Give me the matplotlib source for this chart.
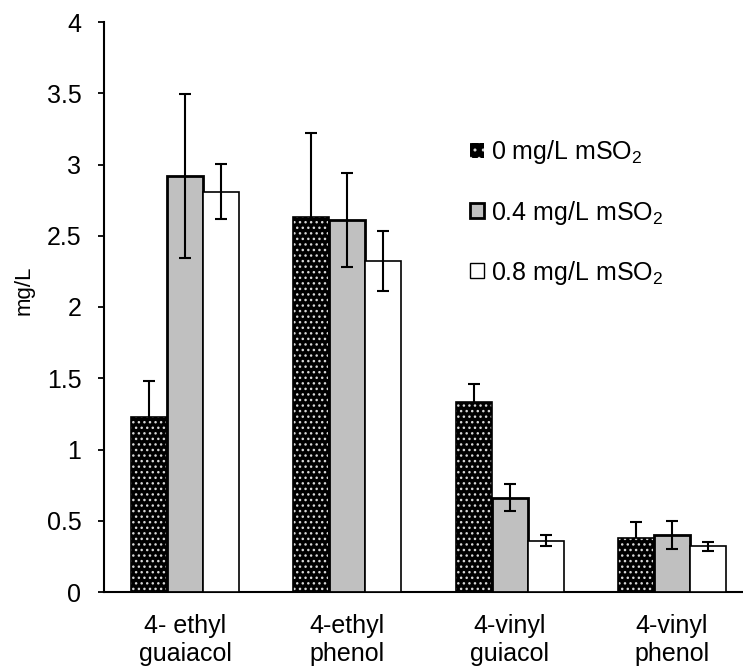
import matplotlib
matplotlib.use("Agg")
import matplotlib.pyplot as plt
from matplotlib.patches import Patch
import numpy as np

plt.rcParams['font.family'] = ['Liberation Sans', 'DejaVu Sans']
plt.rcParams['mathtext.fontset'] = 'custom'
plt.rcParams['mathtext.rm'] = 'Liberation Sans'
plt.rcParams['mathtext.it'] = 'Liberation Sans:italic'
plt.rcParams['mathtext.bf'] = 'Liberation Sans:bold'
plt.rcParams['hatch.linewidth'] = 1.0

categories = ["4- ethyl\nguaiacol", "4-ethyl\nphenol", "4-vinyl\nguiacol", "4-vinyl\nphenol"]
series_labels = ["0 mg/L mSO$_\\mathregular{2}$",
                 "0.4 mg/L mSO$_\\mathregular{2}$",
                 "0.8 mg/L mSO$_\\mathregular{2}$"]
values_0 = [1.23, 2.63, 1.33, 0.38]
values_04 = [2.92, 2.61, 0.66, 0.40]
values_08 = [2.81, 2.32, 0.36, 0.32]
err_0 = [0.25, 0.59, 0.13, 0.11]
err_04 = [0.575, 0.33, 0.095, 0.095]
err_08 = [0.195, 0.21, 0.04, 0.033]
yticks = [0, 0.5, 1, 1.5, 2, 2.5, 3, 3.5, 4]
ytick_labels = ["0", "0.5", "1", "1.5", "2", "2.5", "3", "3.5", "4"]

FS = 18

fig = plt.figure(figsize=(7.43, 6.67), dpi=100)
ax = fig.add_axes([104 / 743, 75 / 667, 649 / 743, 570 / 667])

x = np.arange(len(categories))
w = 0.222
err_kw = dict(ecolor='black', elinewidth=1.5, capsize=4.3, capthick=1.5)

# dotted black series: error bar sits behind the dotted fill, outline on top
ax.errorbar(x - w, values_0, yerr=err_0, fmt='none', zorder=1, **err_kw)
ax.bar(x - w, values_0, w, color='black', edgecolor='#d8d8d8', hatch='...',
       linewidth=0, zorder=2)
ax.bar(x - w, values_0, w, fill=False, edgecolor='black', linewidth=1.2,
       zorder=3)
ax.bar(x, values_04, w, color='#c0c0c0', edgecolor='black', linewidth=2.0,
       yerr=err_04, error_kw=err_kw, zorder=3)
ax.bar(x + w, values_08, w, color='white', edgecolor='black', linewidth=1.2,
       yerr=err_08, error_kw=err_kw, zorder=3)

# legend proxies
h0 = Patch(facecolor='black', edgecolor='#d8d8d8', hatch='..', linewidth=0)
h1 = Patch(facecolor='#c0c0c0', edgecolor='black', linewidth=2.0)
h2 = Patch(facecolor='white', edgecolor='black', linewidth=1.0)
ax.legend([h0, h1, h2], series_labels, loc='upper left',
          bbox_to_anchor=(0.564, 0.796), frameon=False, fontsize=FS,
          handlelength=0.55, handleheight=0.55, handletextpad=0.28,
          labelspacing=1.29, borderaxespad=0, borderpad=0)

ax.set_xlim(-0.5, 3.5)
ax.set_ylim(0, 4)
ax.set_yticks(yticks)
ax.set_yticklabels(ytick_labels, fontsize=FS)
ax.set_xticks(x)
ax.set_xticklabels(categories, fontsize=FS, linespacing=1.2)
ax.tick_params(axis='x', length=0, pad=16)
ax.tick_params(axis='y', direction='out', length=4.3, width=1.3, pad=12)
ax.set_ylabel("mg/L", fontsize=16)
ax.yaxis.set_label_coords(-0.107, 0.53)
for s in ['top', 'right']:
    ax.spines[s].set_visible(False)
for s in ['left', 'bottom']:
    ax.spines[s].set_linewidth(1.5)

fig.savefig("out.png", dpi=100)
